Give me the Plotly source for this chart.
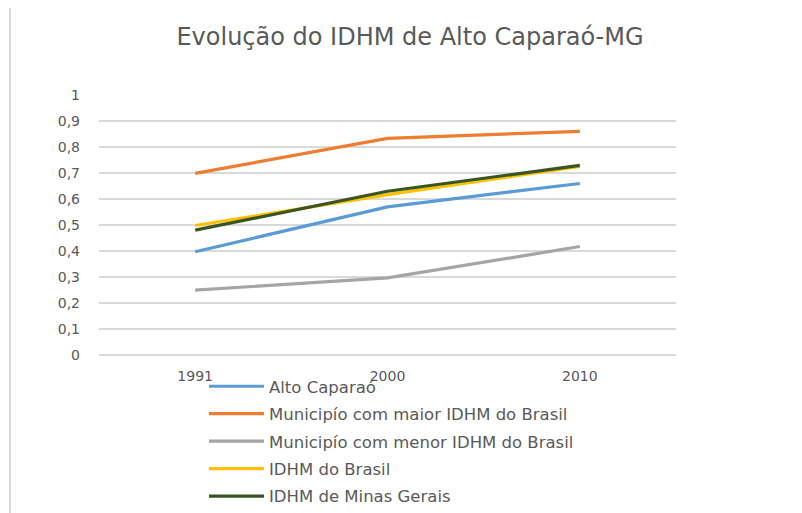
import plotly.graph_objects as go

years = ["1991", "2000", "2010"]
alto_caparao = [0.398, 0.571, 0.661]
maior_idhm = [0.700, 0.835, 0.862]
menor_idhm = [0.250, 0.297, 0.418]
idhm_brasil = [0.499, 0.618, 0.727]
idhm_mg = [0.481, 0.631, 0.731]

series_names = [
    "Alto Caparaó",
    "Municipío com maior IDHM do Brasil",
    "Municipío com menor IDHM do Brasil",
    "IDHM do Brasil",
    "IDHM de Minas Gerais",
]
series_values = [alto_caparao, maior_idhm, menor_idhm, idhm_brasil, idhm_mg]
series_colors = ["#5B9BD5", "#ED7D31", "#A5A5A5", "#FFC000", "#375623"]

# page has an 8px body margin; target screen positions are shifted accordingly
OFF = 8
W, H = 802, 513

def fx(px):  # screen x -> paper fraction
    return (px - OFF) / W

def fy(py):  # screen y -> paper fraction
    return 1 - (py - OFF) / H

fig = go.Figure()
for name, vals, col in zip(series_names, series_values, series_colors):
    fig.add_trace(go.Scatter(
        x=years, y=vals, mode="lines", name=name,
        legendgroup=name,
        line=dict(color=col, width=3.2),
    ))

grey = "#D9D9D9"
font_col = "#595959"
FONT = "DejaVu Sans"
fig.update_layout(
    width=W, height=H,
    margin=dict(l=0, r=0, t=0, b=0, pad=0, autoexpand=False),
    paper_bgcolor="white", plot_bgcolor="white",
    separators=",.",
    title=dict(text="Evolução do IDHM de Alto Caparaó-MG",
               x=fx(410), xref="container", xanchor="center",
               y=fy(37), yref="container", yanchor="middle",
               font=dict(family=FONT, size=24, color=font_col)),
    font=dict(family=FONT, color=font_col),
    xaxis=dict(type="category", range=[-0.5, 2.5], showgrid=False,
               domain=[fx(99), fx(676)],
               showline=False, ticks="", ticklabelstandoff=11,
               tickfont=dict(size=14, color=font_col)),
    yaxis=dict(range=[0, 1.002], dtick=0.1, tick0=0, showgrid=True, gridcolor=grey,
               domain=[fy(355), fy(95)],
               gridwidth=1.5, zeroline=True, zerolinecolor=grey, zerolinewidth=1.5,
               showline=False, ticks="", ticklabelstandoff=18,
               tickfont=dict(size=14, color=font_col)),
    showlegend=True,
    legend=dict(orientation="v",
                x=fx(204), xanchor="left",
                y=fy(514), yanchor="bottom",
                traceorder="grouped", tracegroupgap=3,
                itemwidth=55,
                font=dict(family=FONT, size=16.5, color=font_col),
                bgcolor="rgba(0,0,0,0)"),
    shapes=[
        dict(type="line", xref="paper", yref="paper",
             x0=fx(8), x1=fx(830), y0=fy(7), y1=fy(7),
             line=dict(color=grey, width=2)),
        dict(type="line", xref="paper", yref="paper",
             x0=fx(10), x1=fx(10), y0=fy(7), y1=fy(540),
             line=dict(color=grey, width=2)),
    ],
)

fig.write_html("out.html")
